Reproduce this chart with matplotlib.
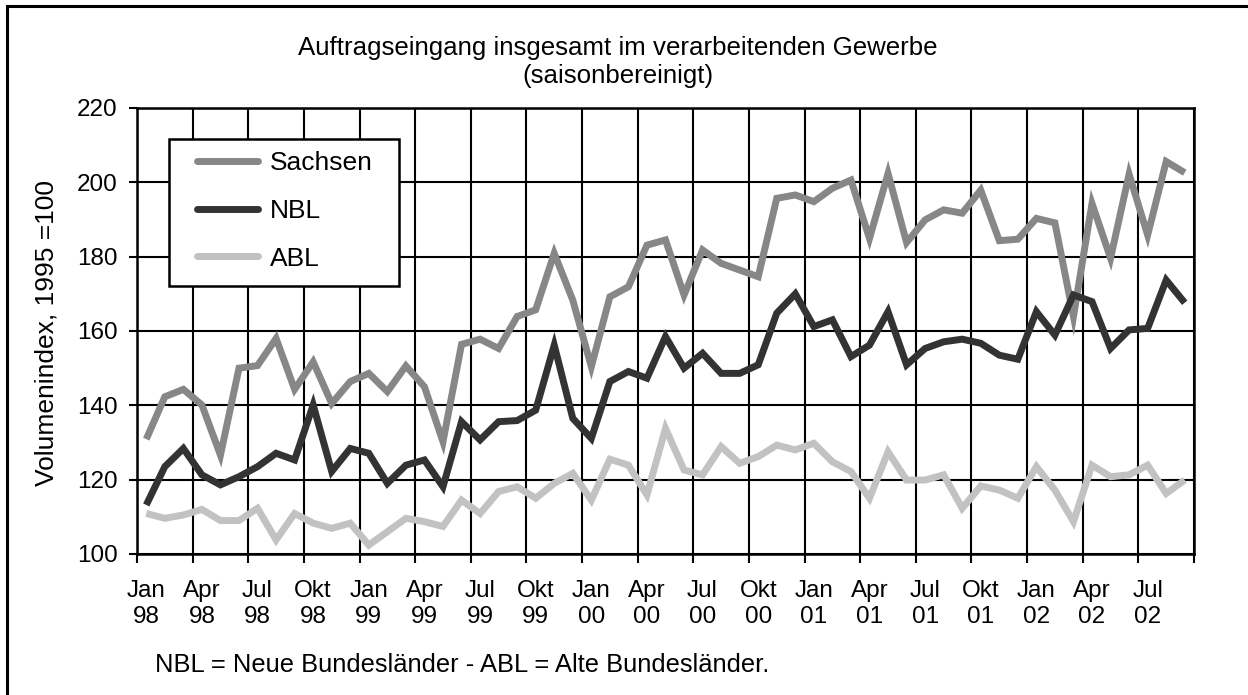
import matplotlib
matplotlib.use("Agg")
import matplotlib.pyplot as plt
from matplotlib.lines import Line2D
from matplotlib.patches import Rectangle

plt.rcParams['font.family'] = ['Liberation Sans', 'DejaVu Sans']

months = ["Jan", "Feb", "Mär", "Apr", "Mai", "Jun", "Jul", "Aug", "Sep", "Okt", "Nov", "Dez"]
years = ["98", "99", "00", "01", "02"]
n_points = 57  # Jan 98 .. Sep 02

sachsen = [130.9, 142.3, 144.3, 140.1, 126.6, 150.0, 150.7, 158.0, 144.3, 151.7,
           140.5, 146.4, 148.6, 143.7, 150.6, 145.0, 130.2, 156.4, 157.8, 155.3,
           163.9, 165.7, 180.9, 168.3, 150.4, 169.2, 171.9, 183.1, 184.5, 169.7,
           181.8, 178.2, 176.4, 174.6, 195.7, 196.6, 194.8, 198.4, 200.6, 184.9,
           202.4, 183.8, 189.9, 192.6, 191.7, 197.9, 184.3, 184.7, 190.3, 189.1,
           163.9, 194.3, 179.6, 202.2, 185.8, 205.6, 202.6]
nbl = [113.2, 123.5, 128.4, 121.3, 118.6, 120.8, 123.5, 127.1, 125.3, 140.1,
       122.2, 128.4, 127.1, 119.0, 123.9, 125.3, 118.1, 135.6, 130.7, 135.6,
       135.9, 138.7, 156.2, 136.5, 131.1, 146.4, 149.1, 147.3, 158.5, 150.0,
       154.0, 148.6, 148.6, 150.9, 164.8, 170.0, 161.2, 163.0, 153.1, 156.2,
       165.2, 150.9, 155.3, 157.1, 157.8, 156.7, 153.5, 152.4, 165.2, 158.9,
       169.7, 167.9, 155.3, 160.3, 160.7, 173.7, 167.6]
abl = [110.9, 109.6, 110.5, 112.0, 109.0, 109.0, 112.3, 103.8, 110.9, 108.3,
       106.9, 108.3, 102.4, 106.0, 109.6, 108.7, 107.4, 114.5, 110.9, 116.8,
       118.1, 115.0, 119.0, 121.7, 114.5, 125.5, 123.9, 115.9, 133.8, 122.6,
       121.3, 128.9, 124.4, 126.2, 129.3, 128.0, 129.8, 124.8, 122.2, 115.0,
       127.5, 119.9, 119.9, 121.3, 112.3, 118.3, 117.2, 115.0, 123.5, 117.2,
       108.7, 123.9, 120.8, 121.3, 123.9, 116.3, 119.9]

series_names = ["Sachsen", "NBL", "ABL"]
series_colors = ["#878787", "#333333", "#c2c2c2"]

W, H = 1248, 695
AX_L, AX_R, AX_T, AX_B = 137, 1194, 108, 554
fig = plt.figure(figsize=(W / 100, H / 100), dpi=100)
ax = fig.add_axes([AX_L / W, 1 - AX_B / H, (AX_R - AX_L) / W, (AX_B - AX_T) / H])

def ax_xy(px, py):
    return ((px - AX_L) / (AX_R - AX_L), (AX_B - py) / (AX_B - AX_T))

x = list(range(n_points))
for vals, name, col in zip([sachsen, nbl, abl], series_names, series_colors):
    ax.plot(x, vals, color=col, lw=5.0, label=name, solid_joinstyle='miter',
            solid_capstyle='butt', zorder=3)

TICK_FS = 17.5
ax.set_xlim(-0.5, n_points - 0.5)
ax.set_ylim(100, 220)
ax.set_yticks(range(100, 221, 20))
ax.set_yticklabels([str(v) for v in range(100, 221, 20)], fontsize=TICK_FS)

bounds = [i - 0.5 for i in range(0, n_points + 1, 3)]
ax.set_xticks(bounds)
ax.set_xticklabels([])
centers = list(range(0, n_points, 3))
ax.set_xticks(centers, minor=True)
ax.set_xticklabels([f"{months[i % 12]}\n{years[i // 12]}" for i in centers],
                   minor=True, fontsize=TICK_FS, linespacing=1.22)
ax.tick_params(axis='x', which='minor', length=0, pad=19)
ax.tick_params(axis='x', which='major', direction='out', length=6.5, width=1.5, color='black')
ax.tick_params(axis='y', direction='out', length=6, width=1.5, pad=8, color='black')

ax.grid(True, which='major', color='black', lw=1.5, zorder=1)
for s in ax.spines.values():
    s.set_linewidth(1.8)
    s.set_color('black')

fig.text(47 / W, 1 - 333 / H, "Volumenindex, 1995 =100", rotation=90,
         ha='center', va='center', fontsize=19)

# legend: frame drawn as a rectangle, entries via ax.legend
x0, y0 = ax_xy(169, 286)
x1, y1 = ax_xy(399, 139)
ax.add_patch(Rectangle((x0, y0), x1 - x0, y1 - y0, transform=ax.transAxes,
                       facecolor='white', edgecolor='black', lw=1.8, zorder=5))
lx, ly = ax_xy(197, 151)
leg = ax.legend(loc='upper left', bbox_to_anchor=(lx, ly),
                fontsize=19, frameon=False, borderpad=0, labelspacing=0.9,
                handlelength=2.3, handletextpad=0.45, borderaxespad=0)
leg.set_zorder(6)
for ln in leg.get_lines():
    ln.set_solid_capstyle('round')

fig.text(618 / W, 1 - 55 / H, "Auftragseingang insgesamt im verarbeitenden Gewerbe",
         ha='center', va='baseline', fontsize=18.6)
fig.text(618 / W, 1 - 83 / H, "(saisonbereinigt)", ha='center', va='baseline', fontsize=18.6)
fig.text(155 / W, 1 - 665 / H, "NBL = Neue Bundesländer - ABL = Alte Bundesländer.",
         ha='left', va='center', fontsize=18.4)

fig.add_artist(Line2D([7 / W, 7 / W], [0, 1 - 6 / H], color='black', lw=2.2, transform=fig.transFigure))
fig.add_artist(Line2D([7 / W, 1], [1 - 6 / H, 1 - 6 / H], color='black', lw=2.2, transform=fig.transFigure))

fig.savefig("out.png", dpi=100)
